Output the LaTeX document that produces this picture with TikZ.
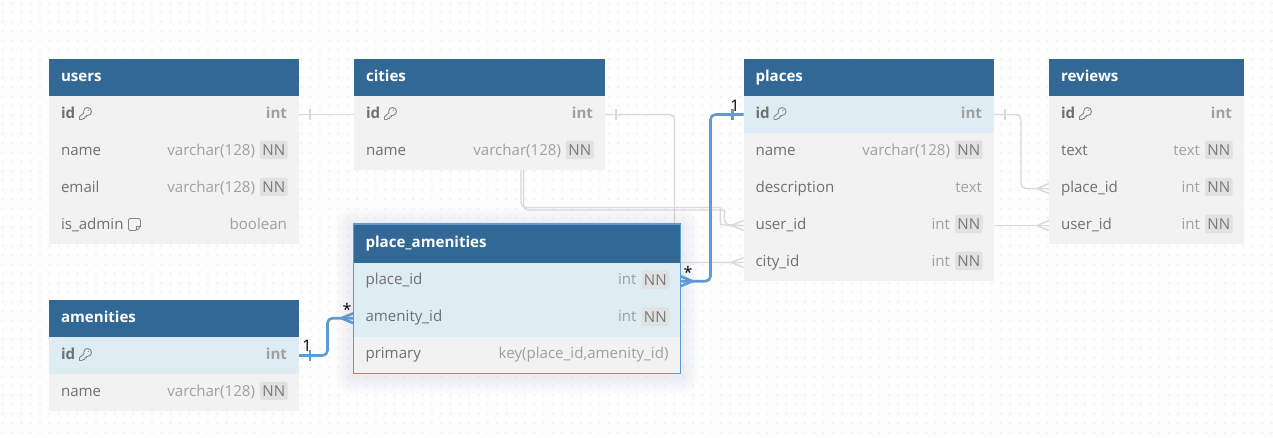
\documentclass[tikz,border=0pt]{standalone}
\usepackage{fontspec}
\setmainfont{Open Sans}
\usetikzlibrary{positioning}

\definecolor{pagewhite}{HTML}{FDFDFD}
\definecolor{dotgray}{HTML}{F1F1F1}
\definecolor{headblue}{HTML}{316896}
\definecolor{rowgray}{HTML}{F2F2F2}
\definecolor{rowblue}{HTML}{DEECF3}
\definecolor{nametext}{HTML}{707070}
\definecolor{typetext}{HTML}{A0A0A0}
\definecolor{badgefill}{HTML}{E1E1E1}
\definecolor{badgetext}{HTML}{7A7A7A}
\definecolor{edgegray}{HTML}{D9D9D9}
\definecolor{edgeblue}{HTML}{5E9BD1}

\pgfdeclarelayer{grid}
\pgfdeclarelayer{edges}
\pgfsetlayers{grid,edges,main}

\newcommand{\tabletext}{\fontsize{15.1}{17}\selectfont}

\tikzset{
	headcell/.style={anchor=north west, fill=headblue, text=white, font=\tabletext\bfseries, minimum height=37, inner xsep=12, inner ysep=0, outer sep=0, text height=11.5, text depth=3.5, align=left},
	fieldcell/.style={anchor=north west, fill=rowgray, text=nametext, font=\tabletext, minimum height=37, inner xsep=12, inner ysep=0, outer sep=0, text height=11, text depth=3.5},
	typecell/.style={anchor=east, text=typetext, font=\tabletext, inner sep=0, outer sep=0, text height=11, text depth=3.5},
	nnbadge/.style={anchor=east, fill=badgefill, text=badgetext, font=\tabletext, rounded corners=2, minimum width=27.5, minimum height=18.5, inner sep=0, outer sep=0, text height=10.8, text depth=0},
	cardtext/.style={text=black, font=\fontsize{16}{18}\selectfont, inner sep=0},
	grayedge/.style={draw=edgegray, line width=1.4, rounded corners=5},
	blueedge/.style={draw=edgeblue, line width=2.6, rounded corners=5},
	iconline/.style={draw=nametext!85, line width=0.9, line join=round},
	keyicon/.pic={
		\draw[iconline] (-1.8,-2.2) .. controls (-1.8,-4.6) and (0,-6) .. (2,-6) .. controls (4.2,-6) and (6,-4.2) .. (6,-2) .. controls (6,0) and (4.5,2) .. (2,2) -- (0.8,2) -- (0.8,3.4) -- (-0.8,3.4) -- (-0.8,5) -- (-2.2,5) -- (-3.5,6) -- (-6,6) -- (-6,3.2) -- (-1.6,-0.6) -- cycle;
		\fill[nametext!85] (2.8,-3.2) circle (0.7pt);
	},
	noteicon/.pic={
		\draw[iconline, rounded corners=2] (-6,-6) -- (6,-6) -- (6,2.5) -- (2.5,6) -- (-6,6) -- cycle;
		\draw[iconline] (6,2) -- (2,2) -- (2,6);
	}
}

% one row under the node #3: fill, name, node above, label, type
\newcommand{\dbrow}[5][rowgray]{
	\node[fieldcell, fill=#1, minimum width=\tablew, text width=\tablew-24] (#2) at (#3.south west) {#4};
	\node[typecell] (#2_type) at ([xshift=-12]#2.east) {#5};
}
\newcommand{\dbrownn}[5][rowgray]{
	\node[fieldcell, fill=#1, minimum width=\tablew, text width=\tablew-24] (#2) at (#3.south west) {#4};
	\node[nnbadge] (#2_nn) at ([xshift=-11.5,yshift=1.6]#2.east) {NN};
	\node[typecell] (#2_type) at ([xshift=-12-27.5-4.5]#2.east) {#5};
}
% crow's foot and bar ends
\newcommand{\crowfoot}[3]{
	\draw[#1, rounded corners=0] ([xshift=#3]#2) -- ([yshift=5]#2) ([xshift=#3]#2) -- ([yshift=-5]#2);
}
\newcommand{\onebar}[3]{
	\draw[#1, rounded corners=0] ([xshift=#3,yshift=5.5]#2) -- ([xshift=#3,yshift=-5.5]#2);
}

\begin{document}
\begin{tikzpicture}[x=1pt,y=-1pt]
	\useasboundingbox (0,0) rectangle (1273,438);
	\begin{pgfonlayer}{grid}
		\fill[pagewhite] (0,0) rectangle (1273,438);
		\foreach \x in {2.7,12.03,...,1273} {
			\foreach \y in {3.3,12.63,...,438} {
				\fill[dotgray] (\x,\y) circle (1.3pt);
			}
		}
	\end{pgfonlayer}

	% users
	\def\tablew{250}
	\node[headcell, minimum width=\tablew, text width=\tablew-24] (users) at (49,59) {users};
	\dbrow{users_id}{users}{\textbf{id}}{\textbf{int}}
	\dbrownn{users_name}{users_id}{name}{varchar(128)}
	\dbrownn{users_email}{users_name}{email}{varchar(128)}
	\dbrow{users_admin}{users_email}{is\_admin}{boolean}
	\pic at ([xshift=36.5,yshift=1]users_id.west) {keyicon};
	\pic at ([xshift=85.5,yshift=1]users_admin.west) {noteicon};

	% cities
	\def\tablew{251}
	\node[headcell, minimum width=\tablew, text width=\tablew-24] (cities) at (354,59) {cities};
	\dbrow{cities_id}{cities}{\textbf{id}}{\textbf{int}}
	\dbrownn{cities_name}{cities_id}{name}{varchar(128)}
	\pic at ([xshift=36.5,yshift=1]cities_id.west) {keyicon};

	% places
	\def\tablew{250.5}
	\node[headcell, minimum width=\tablew, text width=\tablew-24] (places) at (743.5,59) {places};
	\dbrow[rowblue]{places_id}{places}{\textbf{id}}{\textbf{int}}
	\dbrownn{places_name}{places_id}{name}{varchar(128)}
	\dbrow{places_desc}{places_name}{description}{text}
	\dbrownn{places_user}{places_desc}{user\_id}{int}
	\dbrownn{places_city}{places_user}{city\_id}{int}
	\pic at ([xshift=36.5,yshift=1]places_id.west) {keyicon};

	% reviews
	\def\tablew{195}
	\node[headcell, minimum width=\tablew, text width=\tablew-24] (reviews) at (1049,59) {reviews};
	\dbrow{reviews_id}{reviews}{\textbf{id}}{\textbf{int}}
	\dbrownn{reviews_text}{reviews_id}{text}{text}
	\dbrownn{reviews_place}{reviews_text}{place\_id}{int}
	\dbrownn{reviews_user}{reviews_place}{user\_id}{int}
	\pic at ([xshift=36.5,yshift=1]reviews_id.west) {keyicon};

	% amenities
	\def\tablew{250}
	\node[headcell, minimum width=\tablew, text width=\tablew-24] (amenities) at (49,300) {amenities};
	\dbrow[rowblue]{amenities_id}{amenities}{\textbf{id}}{\textbf{int}}
	\dbrownn{amenities_name}{amenities_id}{name}{varchar(128)}
	\pic at ([xshift=36.5,yshift=1]amenities_id.west) {keyicon};

	% place_amenities
	\def\tablew{327}
	\node[headcell, minimum width=\tablew, minimum height=38.7, text width=\tablew-24] (pa) at (353.5,224) {place\_amenities};
	\dbrownn[rowblue]{pa_place}{pa}{place\_id}{int}
	\dbrownn[rowblue]{pa_amenity}{pa_place}{amenity\_id}{int}
	\dbrow{pa_primary}{pa_amenity}{primary}{key(place\_id,amenity\_id)}
	\draw[edgeblue, line width=1.3] (pa.north west) rectangle (pa_primary.south east);

	\begin{pgfonlayer}{edges}
		% thin links, they pass under the tables
		\draw[grayedge] (users_id.east) -- (cities_id.west);
		\onebar{grayedge}{users_id.east}{11}
		\draw[grayedge] (cities_id.east) -| ([xshift=-69]places_city.west) -- (places_city.west);
		\onebar{grayedge}{cities_id.east}{11}
		\crowfoot{grayedge}{places_city.west}{-12}
		\coordinate (userbendA) at (715,207.5);
		\coordinate (userbendB) at (719,210);
		\draw[grayedge] ([xshift=167]cities_name.west) |- (userbendA) .. controls (722,207.5) and (718,225) .. (727,225) -- (places_user.west);
		\draw[grayedge] ([xshift=169.5]cities_name.west) |- (userbendB) .. controls (726,210) and (721,225) .. (730,225);
		\crowfoot{grayedge}{places_user.west}{-12}
		\draw[grayedge] (places_id.east) -| ([xshift=-28]reviews_place.west) -- (reviews_place.west);
		\onebar{grayedge}{places_id.east}{11}
		\crowfoot{grayedge}{reviews_place.west}{-12}
		\draw[grayedge] (places_user.east) -- (reviews_user.west);
		\crowfoot{grayedge}{reviews_user.west}{-12}
		% soft glow of the selected table
		\foreach \g in {2,4,...,18} {
			\fill[edgeblue, opacity=0.012, rounded corners=\g] ([xshift=-\g,yshift=\g-2]pa.north west) rectangle ([xshift=\g,yshift=-\g-2]pa_primary.south east);
		}
	\end{pgfonlayer}

	% selected links
	\draw[blueedge] (places_id.west) -| ([xshift=30]pa_place.east) -- (pa_place.east);
	\onebar{blueedge}{places_id.west}{-11}
	\crowfoot{blueedge}{pa_place.east}{12}
	\draw[blueedge] (amenities_id.east) -| ([xshift=-26]pa_amenity.west) -- (pa_amenity.west);
	\onebar{blueedge}{amenities_id.east}{11}
	\crowfoot{blueedge}{pa_amenity.west}{-12}

	\node[cardtext] (card_places) at (735,105.5) {1};
	\node[cardtext] (card_paplace) at (688,272.5) {*};
	\node[cardtext] (card_amenities) at (307,346) {1};
	\node[cardtext] (card_paamenity) at (347,309.5) {*};
\end{tikzpicture}
\end{document}
